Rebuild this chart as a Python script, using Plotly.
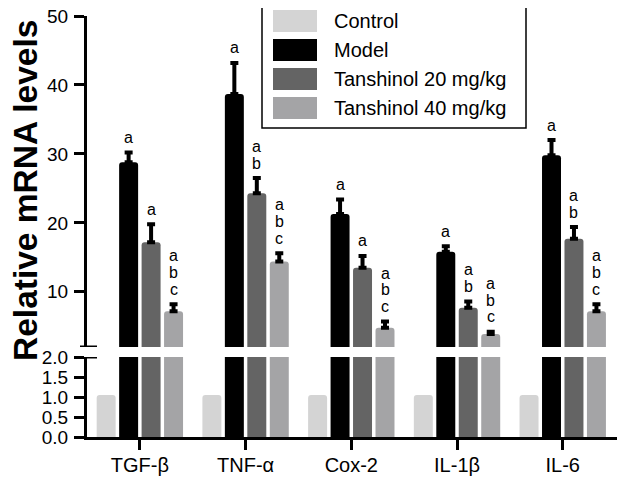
import plotly.graph_objects as go

# ---- data ----
categories = ["TGF-β", "TNF-α", "Cox-2", "IL-1β", "IL-6"]
series_names = ["Control", "Model", "Tanshinol 20 mg/kg", "Tanshinol 40 mg/kg"]
control = [1.05, 1.05, 1.05, 1.05, 1.05]
model = [28.8, 38.7, 21.3, 15.8, 29.8]
t20 = [17.2, 24.3, 13.5, 7.7, 17.7]
t40 = [7.2, 14.4, 4.8, 3.9, 7.2]
model_err = [1.4, 4.5, 2.1, 0.8, 2.2]
t20_err = [2.6, 2.2, 1.7, 0.9, 1.7]
t40_err = [1.0, 1.2, 0.9, 0.3, 1.0]
control_err = [0, 0, 0, 0, 0]
model_letters = ["a", "a", "a", "a", "a"]
t20_letters = ["a", "ab", "a", "ab", "ab"]
t40_letters = ["abc", "abc", "abc", "abc", "abc"]
colors = ["#d4d4d4", "#000000", "#646464", "#a4a4a6"]

values = [control, model, t20, t40]
errors = [control_err, model_err, t20_err, t40_err]
letters = [None, model_letters, t20_letters, t40_letters]

# ---- layout geometry ----
# The page body has an 8px default margin, so the figure is drawn 8px in from
# the top-left; target positions below are given in page pixels.
OFF = 8
W, H = 625 - OFF, 478 - OFF
ML, MR, MT = 87 - OFF, 2, 16 - OFF
MB = H - (437 - OFF)
PW, PH = W - ML - MR, H - MT - MB
LOW_TOP_PX = 357      # page y of 2.0 on lower axis
UP_BOT_PX = 347       # page y of bottom of upper axis


def px_x(p):
    return (p - OFF - ML) / PW


def px_y(p):
    return (H - MB - (p - OFF)) / PH


BARGAP = 0.15
GROUPGAP = 0.155
FONT = "Liberation Sans, Arial, sans-serif"

fig = go.Figure()
n = len(series_names)
for i, (name, vals, errs, col) in enumerate(zip(series_names, values, errors, colors)):
    # lower panel (0-2)
    fig.add_trace(go.Bar(x=categories, y=vals, name=name, marker_color=col,
                         marker_line_width=0, marker_cornerradius=3,
                         xaxis="x", yaxis="y", showlegend=False))
    # upper panel (2-50)
    fig.add_trace(go.Bar(x=categories, y=vals, name=name, marker_color=col,
                         marker_line_width=0, marker_cornerradius=3,
                         error_y=dict(type="data", symmetric=False, array=errs,
                                      arrayminus=[0] * len(errs), color="black",
                                      thickness=4, width=4, visible=any(e > 0 for e in errs)),
                         xaxis="x", yaxis="y2", showlegend=False))

# significance letters above error bars
slot = (1 - BARGAP) / n
annotations = []
for i in range(n):
    if letters[i] is None:
        continue
    offset = -(1 - BARGAP) / 2 + slot * (i + 0.5)
    for j, cat in enumerate(categories):
        top = values[i][j] + errors[i][j]
        lets = letters[i][j]
        for k, ch in enumerate(reversed(lets)):
            annotations.append(dict(x=j + offset, y=top, xref="x", yref="y2", text=ch,
                                    showarrow=False, yanchor="middle", xanchor="center",
                                    yshift=15 + 16.7 * k,
                                    font=dict(family=FONT, size=16, color="black")))

# y-axis title
annotations.append(dict(x=px_x(25), y=px_y(191), xref="paper", yref="paper",
                        text="<b>Relative mRNA levels</b>", textangle=-90,
                        showarrow=False, xanchor="center", yanchor="middle",
                        font=dict(family=FONT, size=33.5, color="black")))

# custom legend
shapes = []
shapes.append(dict(type="rect", xref="paper", yref="paper",
                   x0=px_x(262), x1=px_x(526), y0=px_y(2), y1=px_y(128),
                   line=dict(color="black", width=1.5), fillcolor="white", layer="below"))
leg_centers = [21, 50, 79, 108]
for name, col, cy in zip(series_names, colors, leg_centers):
    shapes.append(dict(type="rect", xref="paper", yref="paper",
                       x0=px_x(273), x1=px_x(317), y0=px_y(cy - 11), y1=px_y(cy + 11),
                       line=dict(width=0), fillcolor=col))
    annotations.append(dict(x=px_x(332), y=px_y(cy), xref="paper", yref="paper",
                            text=name, showarrow=False, xanchor="left", yanchor="middle",
                            font=dict(family=FONT, size=20, color="black")))

# axis-break caps
shapes.append(dict(type="line", xref="paper", yref="y2", x0=px_x(80), x1=px_x(97),
                   y0=2, y1=2, line=dict(color="black", width=3)))
shapes.append(dict(type="line", xref="paper", yref="y", x0=px_x(87), x1=px_x(97),
                   y0=2, y1=2, line=dict(color="black", width=3)))

axis_common = dict(showline=True, linecolor="black", linewidth=3, ticks="outside",
                   tickcolor="black", tickwidth=3, ticklen=10, showgrid=False, zeroline=False,
                   ticklabeloverflow="allow",
                   tickfont=dict(family=FONT, size=19, color="black"))

fig.update_layout(
    width=W, height=H,
    margin=dict(l=ML, r=MR, t=MT, b=MB, autoexpand=False),
    paper_bgcolor="white", plot_bgcolor="white",
    barmode="group", bargap=BARGAP, bargroupgap=GROUPGAP,
    showlegend=False,
    xaxis=dict(**axis_common, range=[-0.5, 4.57], anchor="y", tickfont_size=20),
    yaxis=dict(**axis_common, domain=[0, px_y(LOW_TOP_PX)], range=[0, 2],
               tickvals=[0, 0.5, 1.0, 1.5, 2.0], tickformat=".1f", anchor="x"),
    yaxis2=dict(**axis_common, domain=[px_y(UP_BOT_PX), 1], range=[2, 50],
                tickvals=[10, 20, 30, 40, 50], anchor="x"),
    annotations=annotations,
    shapes=shapes,
)
fig.update_xaxes(ticklabelstandoff=-2)
fig.update_yaxes(ticklabelstandoff=2)

fig.write_html("out.html")
